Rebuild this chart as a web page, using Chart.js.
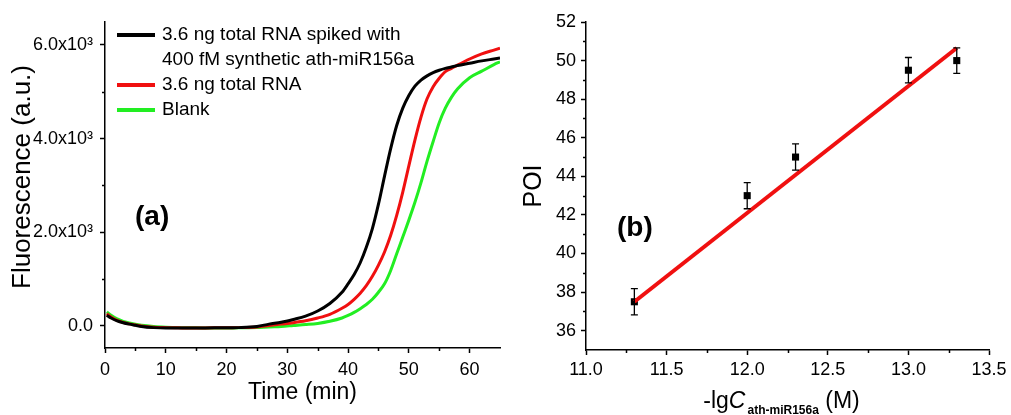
<!DOCTYPE html>
<html lang="en">
<head>
<meta charset="UTF-8">
<title>Fluorescence / POI</title>
<script src="https://cdn.jsdelivr.net/npm/chart.js"></script>
<style>
  html, body { margin: 0; padding: 0; background: #fff; }
  #wrap { position: relative; width: 1011px; height: 415px; overflow: hidden; }
  canvas { position: absolute; top: 0; }
  #chartA { left: 0; }
  #chartB { left: 505px; }
</style>
</head>
<body>
<div id="wrap">
  <canvas id="chartA" width="505" height="415"></canvas>
  <canvas id="chartB" width="506" height="415"></canvas>
</div>
<script>
// ---- panel (a): real-time fluorescence ----
const times = [0.3, 1, 2, 3, 4, 5, 6, 8, 10, 12, 15, 18, 20, 22, 25, 27, 29, 31, 33, 35, 37, 39,
  40, 41, 42, 43, 44, 45, 46, 47, 48, 49, 50, 51, 52, 53, 54, 55, 56, 57, 58, 60, 62, 64, 65];
const spiked = [230, 170, 110, 70, 40, 15, -10, -35, -45, -45, -45, -40, -40, -35, -10, 40, 80, 140, 210, 320, 480, 720,
  900, 1100, 1350, 1680, 2080, 2600, 3200, 3780, 4280, 4650, 4920, 5120, 5250, 5340, 5410, 5460, 5500, 5530, 5560, 5610, 5660, 5700, 5720];
const totalRna = [260, 190, 120, 75, 45, 20, 0, -25, -35, -40, -45, -40, -40, -35, -20, 10, 40, 70, 110, 170, 250, 380,
  460, 570, 700, 860, 1060, 1300, 1580, 1930, 2360, 2860, 3420, 3970, 4460, 4850, 5110, 5290, 5430, 5500, 5570, 5700, 5810, 5890, 5930];
const blank = [300, 230, 150, 100, 65, 35, 15, -10, -25, -35, -40, -45, -45, -40, -35, -20, -10, 10, 30, 55, 100, 170,
  225, 290, 370, 460, 570, 720, 900, 1180, 1540, 1900, 2260, 2640, 3060, 3520, 3940, 4340, 4650, 4880, 5060, 5300, 5440, 5580, 5640];
const seriesLabels = [['3.6 ng total RNA spiked with', '400 fM synthetic ath-miR156a'], ['3.6 ng total RNA'], ['Blank']];
const seriesColors = ['#000000', '#f01010', '#22ee22'];

const timeTicks = [0, 10, 20, 30, 40, 50, 60];
const timeMinor = [5, 15, 25, 35, 45, 55];
const fluoTicks = [0, 2000, 4000, 6000];
const fluoTickLabels = ['0.0', '2.0x10³', '4.0x10³', '6.0x10³'];
const fluoMinor = [1000, 3000, 5000];

// ---- panel (b): POI vs -lgC ----
const lgC = [11.3, 12.0, 12.3, 13.0, 13.3];
const poi = [37.5, 43.0, 45.0, 49.5, 50.0];
const poiErr = [0.68, 0.68, 0.68, 0.66, 0.66];
const fitX = [11.3, 13.3];
const fitY = [37.5, 50.65];
const lgTicks = [11.0, 11.5, 12.0, 12.5, 13.0, 13.5];
const lgMinor = [11.25, 11.75, 12.25, 12.75, 13.25];
const poiTicks = [36, 38, 40, 42, 44, 46, 48, 50, 52];
const poiMinor = [37, 39, 41, 43, 45, 47, 49, 51];

const FONT = '"Liberation Sans", Arial, Helvetica, sans-serif';
Chart.defaults.font.family = FONT;
Chart.defaults.color = '#000';

// short outward minor ticks
const minorTicks = {
  id: 'minorTicks',
  afterDraw(chart, args, opts) {
    const ctx = chart.ctx;
    const { x, y } = chart.scales;
    ctx.save();
    ctx.strokeStyle = '#000';
    ctx.lineWidth = 1.5;
    ctx.beginPath();
    (opts.x || []).forEach(v => {
      const px = Math.round(x.getPixelForValue(v)) + 0.5;
      ctx.moveTo(px, y.bottom);
      ctx.lineTo(px, y.bottom + 3);
    });
    (opts.y || []).forEach(v => {
      const py = Math.round(y.getPixelForValue(v)) + 0.5;
      ctx.moveTo(x.left, py);
      ctx.lineTo(x.left - 3, py);
    });
    ctx.stroke();
    ctx.restore();
  }
};

// panel letter
const panelTag = {
  id: 'panelTag',
  afterDraw(chart, args, opts) {
    const ctx = chart.ctx;
    ctx.save();
    ctx.font = 'bold 28px ' + FONT;
    ctx.fillStyle = '#000';
    ctx.textBaseline = 'alphabetic';
    ctx.fillText(opts.text, opts.x, opts.y);
    ctx.restore();
  }
};

// rotated y title, nudged up a little from the axis centre
const yTitle = {
  id: 'yTitle',
  afterDraw(chart, args, opts) {
    if (!opts.text) return;
    const ctx = chart.ctx;
    const y = chart.scales.y;
    ctx.save();
    ctx.font = opts.size + 'px ' + FONT;
    ctx.fillStyle = '#000';
    ctx.textAlign = 'center';
    ctx.textBaseline = 'middle';
    ctx.translate(opts.x, (y.top + y.bottom) / 2 + opts.shift);
    ctx.rotate(-Math.PI / 2);
    ctx.fillText(opts.text, 0, 0);
    ctx.restore();
  }
};

// legend with a two-line first entry
const sideLegend = {
  id: 'sideLegend',
  afterDraw(chart) {
    const ctx = chart.ctx;
    let y = 35;
    ctx.save();
    ctx.font = '19px ' + FONT;
    ctx.textBaseline = 'middle';
    chart.data.datasets.forEach(ds => {
      const lines = [].concat(ds.label);
      ctx.strokeStyle = ds.borderColor;
      ctx.lineWidth = 4;
      ctx.beginPath();
      ctx.moveTo(117, y);
      ctx.lineTo(155, y);
      ctx.stroke();
      ctx.fillStyle = '#000';
      lines.forEach((t, i) => ctx.fillText(t, 162, y + i * 25));
      y += lines.length * 25;
    });
    ctx.restore();
  }
};

// vertical error bars
const errorBars = {
  id: 'errorBars',
  afterDatasetsDraw(chart) {
    const ctx = chart.ctx;
    const { x, y } = chart.scales;
    ctx.save();
    ctx.strokeStyle = '#000';
    ctx.lineWidth = 1.3;
    ctx.beginPath();
    lgC.forEach((v, i) => {
      const px = x.getPixelForValue(v);
      const top = y.getPixelForValue(poi[i] + poiErr[i]);
      const bot = y.getPixelForValue(poi[i] - poiErr[i]);
      ctx.moveTo(px, top); ctx.lineTo(px, bot);
      ctx.moveTo(px - 3.5, top); ctx.lineTo(px + 3.5, top);
      ctx.moveTo(px - 3.5, bot); ctx.lineTo(px + 3.5, bot);
    });
    ctx.stroke();
    ctx.restore();
  }
};

// x title with italic C and bold subscript
const lgTitle = {
  id: 'lgTitle',
  afterDraw(chart) {
    const ctx = chart.ctx;
    const x = chart.scales.x;
    const parts = [
      { t: '-lg', f: '23px ' + FONT, dy: 0 },
      { t: 'C', f: 'italic 23px ' + FONT, dy: 0 },
      { t: 'ath-miR156a', f: 'bold 12px ' + FONT, dy: 6 },
      { t: ' (M)', f: '23px ' + FONT, dy: 0 }
    ];
    ctx.save();
    ctx.fillStyle = '#000';
    ctx.textBaseline = 'alphabetic';
    let total = 0;
    parts.forEach(p => { ctx.font = p.f; p.w = ctx.measureText(p.t).width; total += p.w; });
    let cx = (x.left + x.right) / 2 - 7 - total / 2;
    const base = 408;
    parts.forEach(p => {
      ctx.font = p.f;
      ctx.fillText(p.t, cx, base + p.dy);
      cx += p.w + (p.t === 'C' ? 2 : 0);
    });
    ctx.restore();
  }
};

function axisCommon() {
  return {
    border: { display: true, color: '#000', width: 1.5 },
    grid: { drawOnChartArea: false, drawTicks: true, tickLength: 5, tickWidth: 1.5, tickColor: '#000' }
  };
}

new Chart(document.getElementById('chartA'), {
  type: 'line',
  data: {
    datasets: [spiked, totalRna, blank].map((vals, i) => ({
      label: seriesLabels[i],
      data: times.map((t, k) => ({ x: t, y: vals[k] })),
      borderColor: seriesColors[i],
      borderWidth: 3,
      pointRadius: 0,
      cubicInterpolationMode: 'monotone',
      fill: false
    }))
  },
  options: {
    responsive: false,
    animation: false,
    layout: { padding: { left: 0, top: 22, right: 5, bottom: 0 } },
    plugins: {
      legend: { display: false },
      tooltip: { enabled: false },
      minorTicks: { x: timeMinor, y: fluoMinor },
      panelTag: { text: '(a)', x: 135, y: 225 },
      yTitle: { text: 'Fluorescence (a.u.)', size: 26, x: 23, shift: -8 }
    },
    scales: {
      x: {
        type: 'linear', min: 0, max: 65,
        ...axisCommon(),
        afterBuildTicks: s => { s.ticks = timeTicks.map(v => ({ value: v })); },
        afterFit: s => { s.height = 67; },
        ticks: { font: { size: 18 }, padding: 6, maxRotation: 0, callback: v => String(v) },
        title: { display: true, text: 'Time (min)', font: { size: 23 }, padding: { top: 0, bottom: 9 } }
      },
      y: {
        type: 'linear', min: -470, max: 6490,
        ...axisCommon(),
        afterBuildTicks: s => { s.ticks = fluoTicks.map(v => ({ value: v })); },
        afterFit: s => { s.width = 105; },
        ticks: { font: { size: 18 }, padding: 7, callback: v => fluoTickLabels[fluoTicks.indexOf(v)] },
        title: { display: false }
      }
    }
  },
  plugins: [minorTicks, panelTag, sideLegend, yTitle]
});

new Chart(document.getElementById('chartB'), {
  type: 'scatter',
  data: {
    datasets: [
      {
        label: 'POI',
        data: lgC.map((v, i) => ({ x: v, y: poi[i] })),
        pointStyle: 'rect',
        pointRadius: 5,
        backgroundColor: '#000',
        borderColor: '#000',
        borderWidth: 0,
        order: 2
      },
      {
        label: 'fit',
        data: fitX.map((v, i) => ({ x: v, y: fitY[i] })),
        showLine: true,
        borderColor: '#f01010',
        borderWidth: 4,
        pointRadius: 0,
        order: 1
      }
    ]
  },
  options: {
    responsive: false,
    animation: false,
    layout: { padding: { left: 0, top: 22, right: 22, bottom: 0 } },
    plugins: {
      legend: { display: false },
      tooltip: { enabled: false },
      minorTicks: { x: lgMinor, y: poiMinor },
      panelTag: { text: '(b)', x: 112, y: 236 }
    },
    scales: {
      x: {
        type: 'linear', min: 11, max: 13.5,
        ...axisCommon(),
        afterBuildTicks: s => { s.ticks = lgTicks.map(v => ({ value: v })); },
        afterFit: s => { s.height = 65; },
        ticks: { font: { size: 18 }, padding: 4, maxRotation: 0, callback: v => v.toFixed(1) },
        title: { display: false }
      },
      y: {
        type: 'linear', min: 35, max: 52,
        ...axisCommon(),
        afterBuildTicks: s => { s.ticks = poiTicks.map(v => ({ value: v })); },
        afterFit: s => { s.width = 81; },
        ticks: { font: { size: 18 }, padding: 5, callback: v => String(v) },
        title: { display: true, text: 'POI', font: { size: 25 }, padding: { top: 14, bottom: 0 } }
      }
    }
  },
  plugins: [minorTicks, panelTag, errorBars, lgTitle]
});
</script>
</body>
</html>
